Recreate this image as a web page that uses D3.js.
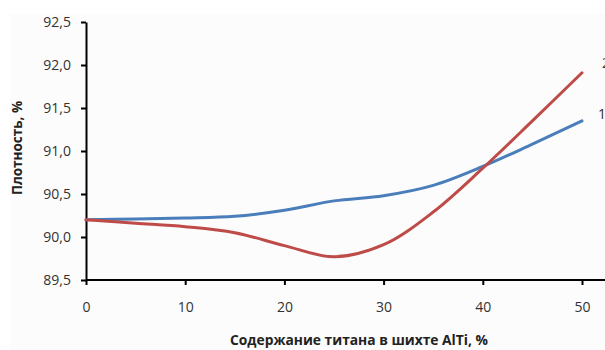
<!DOCTYPE html>
<html>
<head>
<meta charset="utf-8">
<script src="https://cdn.jsdelivr.net/npm/d3@7"></script>
<style>
  body { margin: 0; background: #fff; }
  text { font-family: "Open Sans", "Liberation Sans", sans-serif; }
</style>
</head>
<body>
<div id="chart"></div>
<script>
// data
const titan = [0, 5, 10, 15, 20, 25, 30, 35, 40, 45, 50];
const series1 = [90.20, 90.21, 90.22, 90.24, 90.31, 90.42, 90.48, 90.60, 90.82, 91.08, 91.35];
const series2 = [90.20, 90.16, 90.12, 90.05, 89.90, 89.77, 89.91, 90.29, 90.80, 91.35, 91.91];
const seriesNames = ['1', '2'];
const yTicks = [89.5, 90.0, 90.5, 91.0, 91.5, 92.0, 92.5];
const xTicks = [0, 10, 20, 30, 40, 50];

const width = 605, height = 350;
const margin = { top: 22, bottom: 70, left: 86, right: 23 };

const svg = d3.select('#chart').append('svg')
  .attr('width', width)
  .attr('height', height);

svg.append('rect')
  .attr('x', 10).attr('y', 14)
  .attr('width', width - 10).attr('height', height - 14)
  .attr('fill', '#fcfcfc');

// scales
const xScale = d3.scaleLinear().domain([0, 50]).range([margin.left, width - margin.right]);
const yScale = d3.scaleLinear().domain([89.5, 92.5]).range([height - margin.bottom, margin.top]);
const fmt = d => d.toFixed(1).replace('.', ',');

// x axis
const xAxis = svg.append('g')
  .attr('transform', 'translate(0,' + (height - margin.bottom) + ')')
  .call(d3.axisBottom(xScale).tickValues(xTicks).tickSize(5).tickPadding(17).tickSizeOuter(0));
xAxis.select('.domain').attr('d', 'M' + margin.left + ',0H' + width);
// y axis
const yAxis = svg.append('g')
  .attr('transform', 'translate(' + margin.left + ',0)')
  .call(d3.axisLeft(yScale).tickValues(yTicks).tickFormat(fmt).tickSize(5).tickPadding(10).tickSizeOuter(0));

svg.selectAll('.domain').attr('stroke', '#000').attr('stroke-width', 2);
svg.selectAll('.tick line').attr('stroke', '#000').attr('stroke-width', 2);
svg.selectAll('.tick text').attr('font-size', '14px').attr('fill', '#333');

// lines
const colors = ['#4a7ebb', '#be4b48'];
const line = d3.line()
  .x(d => xScale(d.x))
  .y(d => yScale(d.y))
  .curve(d3.curveCatmullRom.alpha(0.5));
[series1, series2].forEach((s, i) => {
  const pts = titan.map((x, j) => ({ x: x, y: s[j] }));
  svg.append('path')
    .datum(pts)
    .attr('fill', 'none')
    .attr('stroke', colors[i])
    .attr('stroke-width', 3)
    .attr('stroke-linecap', 'round')
    .attr('d', line);
  // series label at line end
  svg.append('text')
    .attr('x', xScale(50) + (i === 0 ? 16 : 20))
    .attr('y', yScale(s[s.length - 1]) - (i === 0 ? 7 : 10))
    .attr('dy', '0.35em')
    .attr('font-size', '14px')
    .attr('fill', '#333')
    .text(seriesNames[i]);
});

// axis titles
svg.append('text')
  .attr('x', 359).attr('y', 345)
  .attr('text-anchor', 'middle')
  .attr('font-size', '13.8px')
  .attr('font-weight', 'bold')
  .attr('fill', '#222')
  .text('Содержание титана в шихте AlTi, %');
svg.append('text')
  .attr('transform', 'translate(22,' + 148 + ') rotate(-90)')
  .attr('text-anchor', 'middle')
  .attr('font-size', '13.5px')
  .attr('font-weight', 'bold')
  .attr('fill', '#222')
  .text('Плотность, %');
</script>
</body>
</html>
